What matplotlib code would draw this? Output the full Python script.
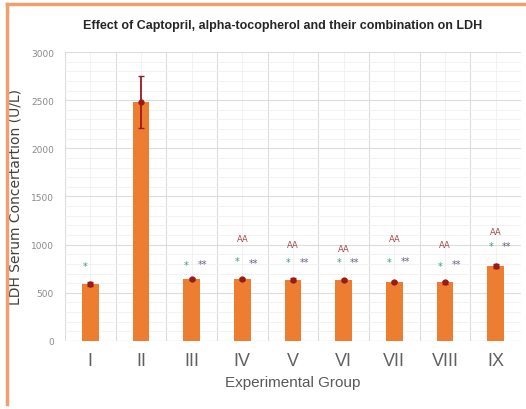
import matplotlib
matplotlib.use("Agg")
import matplotlib.pyplot as plt
from matplotlib.lines import Line2D
from matplotlib.ticker import MultipleLocator
import numpy as np

# ── data ──────────────────────────────────────────────────────────────────────
groups = ["I", "II", "III", "IV", "V", "VI", "VII", "VIII", "IX"]
ldh = [590, 2480, 640, 645, 638, 635, 612, 610, 782]
ldh_err = [20, 270, 12, 12, 12, 12, 12, 15, 20]

# significance marks: (height of mark) per group, None = no mark
star_y = [780, None, 790, 830, 820, 825, 820, 780, 985]
dstar_y = [None, None, 800, 810, 825, 820, 830, 800, 990]
aa_y = [None, None, None, 1060, 1005, 965, 1060, 1005, 1140]

BAR = "#ED7D31"
TXT = "#595959"
NARROW = ["Liberation Sans Narrow", "Liberation Sans", "DejaVu Sans"]

fig = plt.figure(figsize=(5.26, 4.10), dpi=100, facecolor="white")
ax = fig.add_axes([0.1236, 0.1659, 0.867, 0.7048])

x = np.arange(len(groups))
ax.bar(x, ldh, width=0.33, color=BAR, zorder=3)
ax.errorbar(x, ldh, yerr=ldh_err, fmt="o", color="#9a1a14", ecolor="#a01820",
            markersize=3.5, elinewidth=1.3, capsize=2.5, capthick=1, zorder=4)

for i in range(len(groups)):
    if star_y[i] is not None:
        ax.text(i - 0.1, star_y[i], "*", ha="center", va="center",
                color="#3a9a86", fontsize=7)
    if dstar_y[i] is not None:
        ax.text(i + 0.22, dstar_y[i], "**", ha="center", va="center",
                color="#6d5f8c", fontsize=7)
    if aa_y[i] is not None:
        ax.text(i, aa_y[i], "AA", ha="center", va="center",
                color="#a84848", fontsize=6)

ax.set_xlim(-0.5, len(groups) - 0.5)
ax.set_ylim(0, 3000)
ax.yaxis.set_major_locator(MultipleLocator(500))
ax.yaxis.set_minor_locator(MultipleLocator(100))
ax.set_xticks(x)
ax.set_xticklabels(groups, color="#606060", fontsize=13, family=NARROW)
ax.set_xticks(np.arange(-0.5, len(groups)), minor=True)
ax.tick_params(axis="y", labelsize=6.5, labelcolor="#8a8a8a", length=0, pad=8,
               which="both")
ax.tick_params(axis="x", length=0, pad=8, which="both")

ax.grid(which="major", axis="y", color="#dcdcdc", linewidth=0.8, zorder=0)
ax.grid(which="minor", axis="y", color="#f0f0f0", linewidth=0.6, zorder=0)
ax.grid(which="minor", axis="x", color="#dcdcdc", linewidth=0.8, zorder=0)
ax.grid(which="major", axis="x", color="#f0f0f0", linewidth=0.6, zorder=0)
for sp in ax.spines.values():
    sp.set_visible(False)
ax.axhline(0, color="#d0d0d0", linewidth=0.8, zorder=1)

ax.set_xlabel("Experimental Group", color=TXT, fontsize=11, labelpad=4,
              family=NARROW)
ax.set_ylabel("LDH Serum Concertartion (U/L)", color="#404040", fontsize=10,
              labelpad=6)
fig.suptitle("Effect of Captopril, alpha-tocopherol and their combination on LDH",
             x=0.538, y=0.95, fontsize=9, fontweight="bold", color="#262626",
             family=NARROW)

# orange frame around the chart (left and top edges)
frame = "#f0a070"
fig.add_artist(Line2D([0.0133, 0.0133], [0.012, 0.988], color=frame,
                      linewidth=2.5, transform=fig.transFigure))
fig.add_artist(Line2D([0.0133, 1.0], [0.988, 0.988], color=frame,
                      linewidth=2.5, transform=fig.transFigure))

fig.savefig("out.png", dpi=100, facecolor="white")
